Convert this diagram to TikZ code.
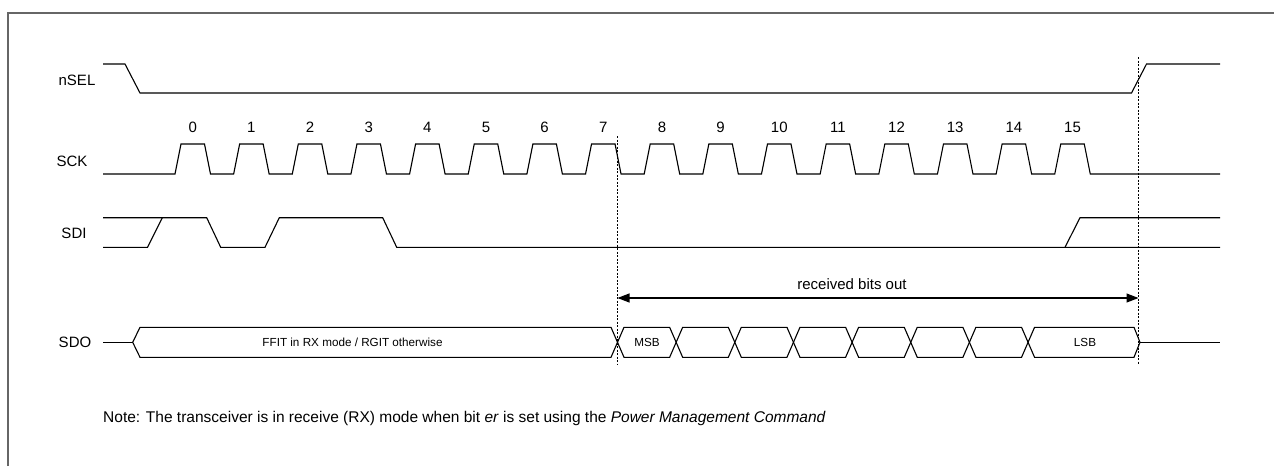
\documentclass[tikz,border=0pt]{standalone}
\usepackage{fontspec}
\setmainfont{Liberation Sans}
\usetikzlibrary{arrows.meta}

\begin{document}
\begin{tikzpicture}[x=1pt,y=-1pt,
    signal/.style={line width=1.1pt},
    guide/.style={dash pattern=on 2pt off 1.5pt, line width=0.8pt},
    siglabel/.style={font=\fontsize{15}{18}\selectfont},
    bitlabel/.style={font=\fontsize{15}{18}\selectfont},
    boxlabel/.style={font=\fontsize{11.7}{14}\selectfont},
    notelabel/.style={font=\fontsize{15.5}{18}\selectfont}]
    \useasboundingbox (0,0) rectangle (1274,466);

    % Frame
    \draw[black!60, line width=2pt] (8,466) -- (8,13) -- (1274,13);

    % Signal names
    \node[siglabel] (nsel) at (77,80) {nSEL};
    \node[siglabel] (sck) at (72,161) {SCK};
    \node[siglabel] (sdi) at (74,233) {SDI};
    \node[siglabel] (sdo) at (75,342.3) {SDO};

    % nSEL
    \draw[signal] (103,64) -- (125,64) -- (140,93) -- (1131.5,93) -- (1146.5,64) -- (1220,64);

    % SCK with bit numbers
    \draw[signal] (103,174)
        \foreach \k in {0,...,15} {
            -- ({175+58.65*\k},174) -- ({181+58.65*\k},144)
            -- ({204.5+58.65*\k},144) -- ({210.5+58.65*\k},174)
        } -- (1220,174);
    \foreach \k in {0,...,15}
        \node[bitlabel] (bit\k) at ({192.75+58.65*\k},127) {\k};

    % SDI
    \draw[signal] (103,247.3) -- (147.5,247.3) -- (162.3,217.7);
    \draw[signal] (103,217.7) -- (206.7,217.7) -- (220.7,247.3) -- (265,247.3) -- (279.3,217.7)
        -- (382.7,217.7) -- (396.7,247.3) -- (1220,247.3);
    \draw[signal] (1065,247.3) -- (1080,217.7) -- (1220,217.7);

    % SDO
    \draw[signal] (103,342.3) -- (132.7,342.3);
    \draw[signal] (132.7,342.3) -- (140,327.3) -- (611,327.3) -- (617.5,342.3)
        -- (611,357.3) -- (140,357.3) -- cycle;
    \foreach \k in {0,...,6}
        \draw[signal] ({617.5+58.65*\k},342.3) -- ({624+58.65*\k},327.3) -- ({669.65+58.65*\k},327.3)
            -- ({676.15+58.65*\k},342.3) -- ({669.65+58.65*\k},357.3) -- ({624+58.65*\k},357.3) -- cycle;
    \draw[signal] (1028.05,342.3) -- (1034.55,327.3) -- (1134,327.3) -- (1140,342.3)
        -- (1134,357.3) -- (1034.55,357.3) -- cycle;
    \draw[signal] (1140,342.3) -- (1220,342.3);
    \node[boxlabel] (ffit) at (352.5,342.3) {FFIT in RX mode / RGIT otherwise};
    \node[boxlabel] (msb) at (647,342.3) {MSB};
    \node[boxlabel] (lsb) at (1085,342.3) {LSB};

    % Dashed guides
    \coordinate (cutA top) at (617.5,136);
    \coordinate (cutA bot) at (617.5,365);
    \coordinate (cutB top) at (1138.5,57);
    \coordinate (cutB bot) at (1138.5,365);
    \draw[guide] (cutA top) -- (cutA bot);
    \draw[guide] (cutB top) -- (cutB bot);

    % Received bits
    \coordinate (rx start) at (617.5,298);
    \coordinate (rx end) at (1138.5,298);
    \draw[line width=1.1pt, {Triangle[length=12pt,width=9pt]}-{Triangle[length=12pt,width=9pt]}] (rx start) -- (rx end);
    \node[siglabel] (rxtext) at (852,284) {received bits out};

    % Note
    \node[notelabel, anchor=west, inner sep=0pt] (note) at (103,418)
        {Note: The transceiver is in receive (RX) mode when bit \textit{er} is set using the \textit{Power Management Command}};
\end{tikzpicture}
\end{document}
